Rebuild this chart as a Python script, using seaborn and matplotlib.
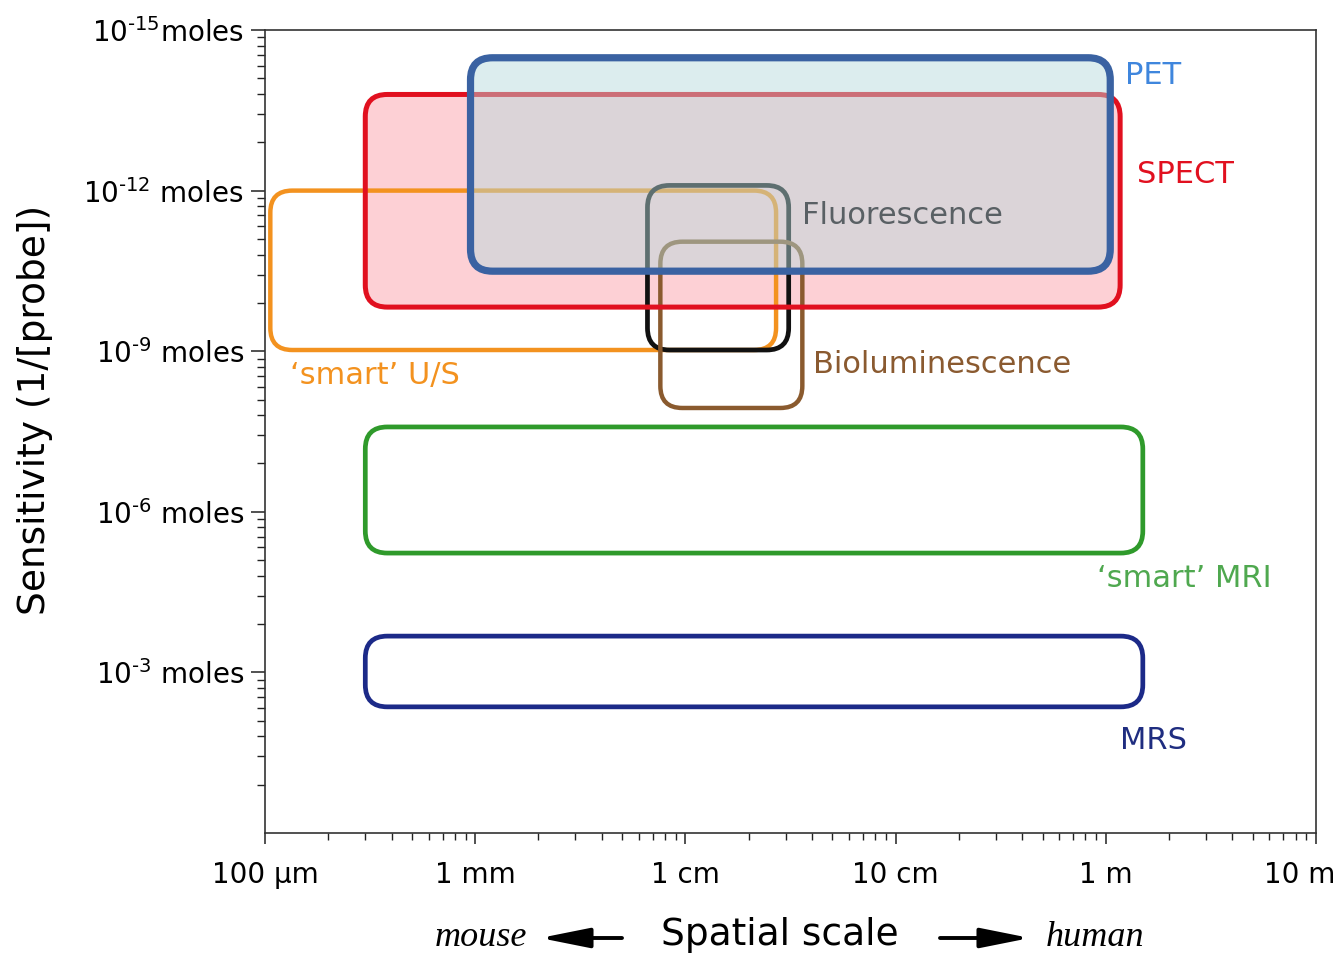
import numpy as np
import pandas as pd
import matplotlib
matplotlib.use("Agg")
import matplotlib.pyplot as plt
import matplotlib.ticker as mticker
import matplotlib.transforms as mtrans
from matplotlib.patches import FancyBboxPatch, FancyArrowPatch
import seaborn as sns

# ---- imaging modalities: spatial range (m) and sensitivity range (moles) ----
modalities = ["SPECT", "\u2018smart\u2019 U/S", "Fluorescence", "Bioluminescence",
              "\u2018smart\u2019 MRI", "MRS", "PET"]
x_min = [3.0e-4, 1.06e-4, 6.6e-3, 7.6e-3, 3.0e-4, 3.0e-4, 9.5e-4]
x_max = [1.17, 2.7e-2, 3.1e-2, 3.6e-2, 1.5, 1.5, 1.05]
mol_min = [1.6e-14, 1.0e-12, 8.0e-13, 9.0e-12, 2.6e-8, 2.1e-4, 3.3e-15]
mol_max = [1.5e-10, 9.5e-10, 9.5e-10, 1.15e-8, 5.9e-6, 4.4e-3, 3.2e-11]

edge_colors = ["#e1101f", "#f3921f", "#111111", "#8a5a2e",
               "#2f9a2b", "#1c2a88", "#3a62a2"]
fill_colors = ["#fdd0d5", None, None, None, None, None, "#b5dadc"]
label_colors = ["#e1101f", "#f3921f", "#596064", "#8a5a30",
                "#4fa84f", "#1f2d80", "#3f86dd"]
line_widths = [3.6, 3.2, 3.4, 3.2, 3.4, 3.4, 5.2]
layer = [1, 2, 2, 2, 2, 2, 4]

# label anchors (left edge, vertical centre) in data units
label_x = [1.41, 1.31e-4, 3.59e-2, 4.05e-2, 0.908, 1.17, 1.23]
label_y = [5.1e-13, 2.79e-9, 2.86e-12, 1.81e-9, 1.73e-5, 1.84e-2, 7.2e-15]

# axis ticks
x_ticks = [1e-4, 1e-3, 1e-2, 1e-1, 1e0, 1e1]
x_tick_labels = ["100 \u00b5m", "1 mm", "1 cm", "10 cm", "1 m", "10 m"]
y_exps = [-15, -12, -9, -6, -3]
y_tick_labels = ["10$^{\u201015}$moles", "10$^{\u201012}$ moles",
                 "10$^{\u20109}$ moles", "10$^{\u20106}$ moles",
                 "10$^{\u20103}$ moles"]

df = pd.DataFrame({"modality": modalities, "x_min": x_min, "x_max": x_max,
                   "mol_min": mol_min, "mol_max": mol_max,
                   "edge": edge_colors, "fill": fill_colors,
                   "label_color": label_colors, "lw": line_widths,
                   "z": layer, "lx": label_x, "ly": label_y})

sns.set_theme(style="ticks")
plt.rcParams["font.family"] = ["DejaVu Sans"]
plt.rcParams["mathtext.default"] = "regular"

W, H = 1342, 957
fig = plt.figure(figsize=(W / 100, H / 100), dpi=100)
fig.patch.set_facecolor("white")
ax_l, ax_r, ax_t, ax_b = 265, 1316, 30, 833
ax = fig.add_axes([ax_l / W, 1 - ax_b / H, (ax_r - ax_l) / W, (ax_b - ax_t) / H])
ax.set_facecolor("white")

ax.set_xscale("log")
ax.set_yscale("log")
ax.set_xlim(1e-4, 1e1)
ax.set_ylim(1e0, 1e-15)

# x ticks
ax.xaxis.set_major_locator(mticker.FixedLocator(x_ticks))
ax.xaxis.set_major_formatter(mticker.FixedFormatter(x_tick_labels))
ax.xaxis.set_minor_locator(mticker.LogLocator(base=10, subs=np.arange(2, 10)))
ax.xaxis.set_minor_formatter(mticker.NullFormatter())

# y ticks: a major tick every three decades, minor ticks spaced like a
# log decade stretched over each three-decade step
y_major = [10.0 ** e for e in y_exps]
y_minor = []
for e in range(-12, 1, 3):
    for k in range(2, 10):
        y_minor.append(10.0 ** e / k ** 3)
ax.yaxis.set_major_locator(mticker.FixedLocator(y_major))
ax.yaxis.set_major_formatter(mticker.FixedFormatter(y_tick_labels))
ax.yaxis.set_minor_locator(mticker.FixedLocator(y_minor))
ax.yaxis.set_minor_formatter(mticker.NullFormatter())

ax.tick_params(axis="x", which="major", length=8, width=1.1, pad=12,
               labelsize=20, colors="#222222", labelcolor="black")
ax.tick_params(axis="x", which="minor", length=5, width=1.0, colors="#222222")
ax.tick_params(axis="y", which="major", length=10, width=1.1, pad=5,
               labelsize=20, colors="#222222", labelcolor="black")
ax.tick_params(axis="y", which="minor", length=6, width=1.0, colors="#222222")
for s in ax.spines.values():
    s.set_visible(True)
    s.set_color("#333333")
    s.set_linewidth(1.2)

# keep the last x label inside the canvas
lbls = ax.get_xticklabels()
lbls[-1].set_transform(lbls[-1].get_transform() +
                       mtrans.ScaledTranslation(-16 / 100, 0, fig.dpi_scale_trans))

# ---- rounded boxes, built in axes-fraction space so corners stay round ----
ax_w_px = ax_r - ax_l
ax_h_px = ax_b - ax_t
radius_px = 22
r_frac = radius_px / ax_w_px
aspect = ax_w_px / ax_h_px
to_axes = ax.transData + ax.transAxes.inverted()


def box_in_axes(row):
    (a0, b0), (a1, b1) = to_axes.transform([(row.x_min, row.mol_min),
                                            (row.x_max, row.mol_max)])
    x0, x1 = min(a0, a1), max(a0, a1)
    y0, y1 = min(b0, b1), max(b0, b1)
    return x0, y0, x1 - x0, y1 - y0


style = f"round,pad=0,rounding_size={r_frac}"
for row in df.itertuples():
    x0, y0, w, h = box_in_axes(row)
    if row.modality == "SPECT":
        # fill underneath the other boxes, outline above them
        ax.add_patch(FancyBboxPatch((x0, y0), w, h, boxstyle=style,
                                    mutation_aspect=aspect, transform=ax.transAxes,
                                    facecolor=row.fill, edgecolor="none", zorder=1))
        ax.add_patch(FancyBboxPatch((x0, y0), w, h, boxstyle=style,
                                    mutation_aspect=aspect, transform=ax.transAxes,
                                    facecolor="none", edgecolor=row.edge,
                                    linewidth=row.lw, zorder=3))
    elif row.modality == "PET":
        ax.add_patch(FancyBboxPatch((x0, y0), w, h, boxstyle=style,
                                    mutation_aspect=aspect, transform=ax.transAxes,
                                    facecolor=row.fill, alpha=0.47,
                                    edgecolor="none", zorder=4))
        ax.add_patch(FancyBboxPatch((x0, y0), w, h, boxstyle=style,
                                    mutation_aspect=aspect, transform=ax.transAxes,
                                    facecolor="none", edgecolor=row.edge,
                                    linewidth=row.lw, zorder=4.5))
    else:
        ax.add_patch(FancyBboxPatch((x0, y0), w, h, boxstyle=style,
                                    mutation_aspect=aspect, transform=ax.transAxes,
                                    facecolor="none", edgecolor=row.edge,
                                    linewidth=row.lw, zorder=row.z))

for row in df.itertuples():
    ax.text(row.lx, row.ly, row.modality, color=row.label_color, fontsize=22,
            ha="left", va="center", zorder=6, clip_on=False)

# ---- axis titles and direction hints ----
fig.text(35 / W, 1 - 410 / H, "Sensitivity (1/[probe])", rotation=90,
         fontsize=27, ha="center", va="center", color="black")
fig.text(780 / W, 1 - 935 / H, "Spatial scale", fontsize=27,
         ha="center", va="center", color="black")
fig.text(481 / W, 1 - 938 / H, "mouse", fontsize=26, style="italic",
         family="Liberation Serif", ha="center", va="center", color="black")
fig.text(1095 / W, 1 - 938 / H, "human", fontsize=26, style="italic",
         family="Liberation Serif", ha="center", va="center", color="black")
arrow_kw = dict(arrowstyle="-|>,head_length=1.5,head_width=0.3",
                mutation_scale=20, lw=2.8, color="black",
                shrinkA=0, shrinkB=0)
fig.add_artist(FancyArrowPatch((622 / W, 1 - 938 / H), (540 / W, 1 - 938 / H),
                               transform=fig.transFigure, **arrow_kw))
fig.add_artist(FancyArrowPatch((940 / W, 1 - 938 / H), (1030 / W, 1 - 938 / H),
                               transform=fig.transFigure, **arrow_kw))

fig.savefig("out.png", dpi=100, facecolor="white")
